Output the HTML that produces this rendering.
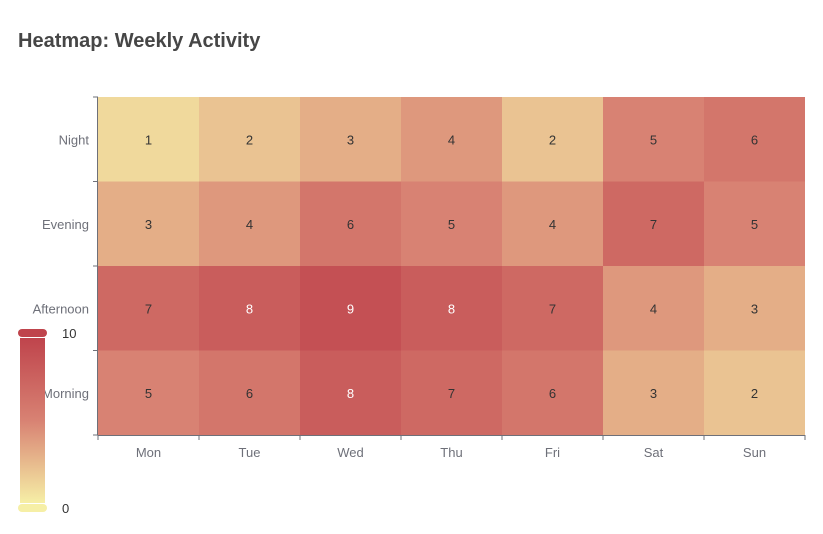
<!DOCTYPE html>
<html><head><meta charset="utf-8"><style>
body{margin:0;background:#fff;font-family:"Liberation Sans",sans-serif}
svg text{font-family:"Liberation Sans",sans-serif}
</style></head><body>
<svg width="823" height="529" id="c">
<text x="18" y="47" font-size="20" font-weight="bold" fill="#464646">Heatmap: Weekly Activity</text>
</svg>
<script>
const days=['Mon','Tue','Wed','Thu','Fri','Sat','Sun'];
const periods=['Morning','Afternoon','Evening','Night'];
const morning=[5,6,8,7,6,3,2];
const afternoon=[7,8,9,8,7,4,3];
const evening=[3,4,6,5,4,7,5];
const night=[1,2,3,4,2,5,6];
const rows=[morning,afternoon,evening,night];
const vmin=0,vmax=10;
const svg=document.getElementById('c');const NS='http://www.w3.org/2000/svg';
function mk(t,a,p){const e=document.createElementNS(NS,t);for(const k in a)e.setAttribute(k,a[k]);(p||svg).appendChild(e);return e;}
const L=98,R=805,T=97,B=435;
const cw=(R-L)/days.length,ch=(B-T)/periods.length;
const xPos=i=>L+i*cw, yPos=j=>B-(j+1)*ch;
const stops=[[246,239,166],[216,130,115],[191,68,76]];
function col(v){let t=(v-vmin)/(vmax-vmin);t=Math.max(0,Math.min(1,t));const s=t*2,i=Math.min(1,Math.floor(s)),f=s-i;const a=stops[i],b=stops[i+1];return 'rgb('+a.map((x,k)=>Math.round(x+(b[k]-x)*f)).join(',')+')';}
rows.forEach((r,j)=>r.forEach((v,i)=>{
 const e=mk('rect',{x:xPos(i),y:yPos(j),width:cw,height:ch,fill:col(v)});
 
 
 const t=mk('text',{x:xPos(i)+cw/2,y:yPos(j)+ch/2+5,'text-anchor':'middle','font-size':13,fill:v>=8?'#fff':'#333'});t.textContent=v;
 
 
}));
// axes
mk('line',{x1:L,y1:B+0.5,x2:R,y2:B+0.5,stroke:'#6e7079'});
mk('line',{x1:L-0.5,y1:T,x2:L-0.5,y2:B,stroke:'#6e7079'});
for(let i=0;i<=days.length;i++)mk('line',{x1:xPos(i),y1:B,x2:xPos(i),y2:B+5,stroke:'#6e7079'});
for(let j=0;j<=periods.length;j++)mk('line',{x1:L-5,y1:B-j*ch,x2:L,y2:B-j*ch,stroke:'#6e7079'});
days.forEach((d,i)=>{const t=mk('text',{x:xPos(i)+cw/2,y:B+22,'text-anchor':'middle','font-size':13,fill:'#6e7079'});t.textContent=d;
 });
periods.forEach((p,j)=>{const t=mk('text',{x:L-9,y:yPos(j)+ch/2+5,'text-anchor':'end','font-size':13,fill:'#6e7079'});t.textContent=p;
 });
// visual map
const g=mk('g',{});

const defs=mk('defs',{});const lg=mk('linearGradient',{id:'vg',x1:0,y1:1,x2:0,y2:0},defs);
stops.forEach((s,k)=>mk('stop',{offset:k/2,'stop-color':'rgb('+s.join(',')+')'},lg));
mk('rect',{x:20,y:338,width:25,height:165,fill:'url(#vg)'},g);
mk('rect',{x:18,y:329,width:29,height:8,rx:4,fill:col(vmax)},g);
mk('rect',{x:18,y:504,width:29,height:8,rx:4,fill:col(vmin)},g);
const t1=mk('text',{x:62,y:338,'font-size':13,fill:'#333'},g);t1.textContent=vmax;
const t0=mk('text',{x:62,y:513,'font-size':13,fill:'#333'},g);t0.textContent=vmin;
</script>
</body></html>
